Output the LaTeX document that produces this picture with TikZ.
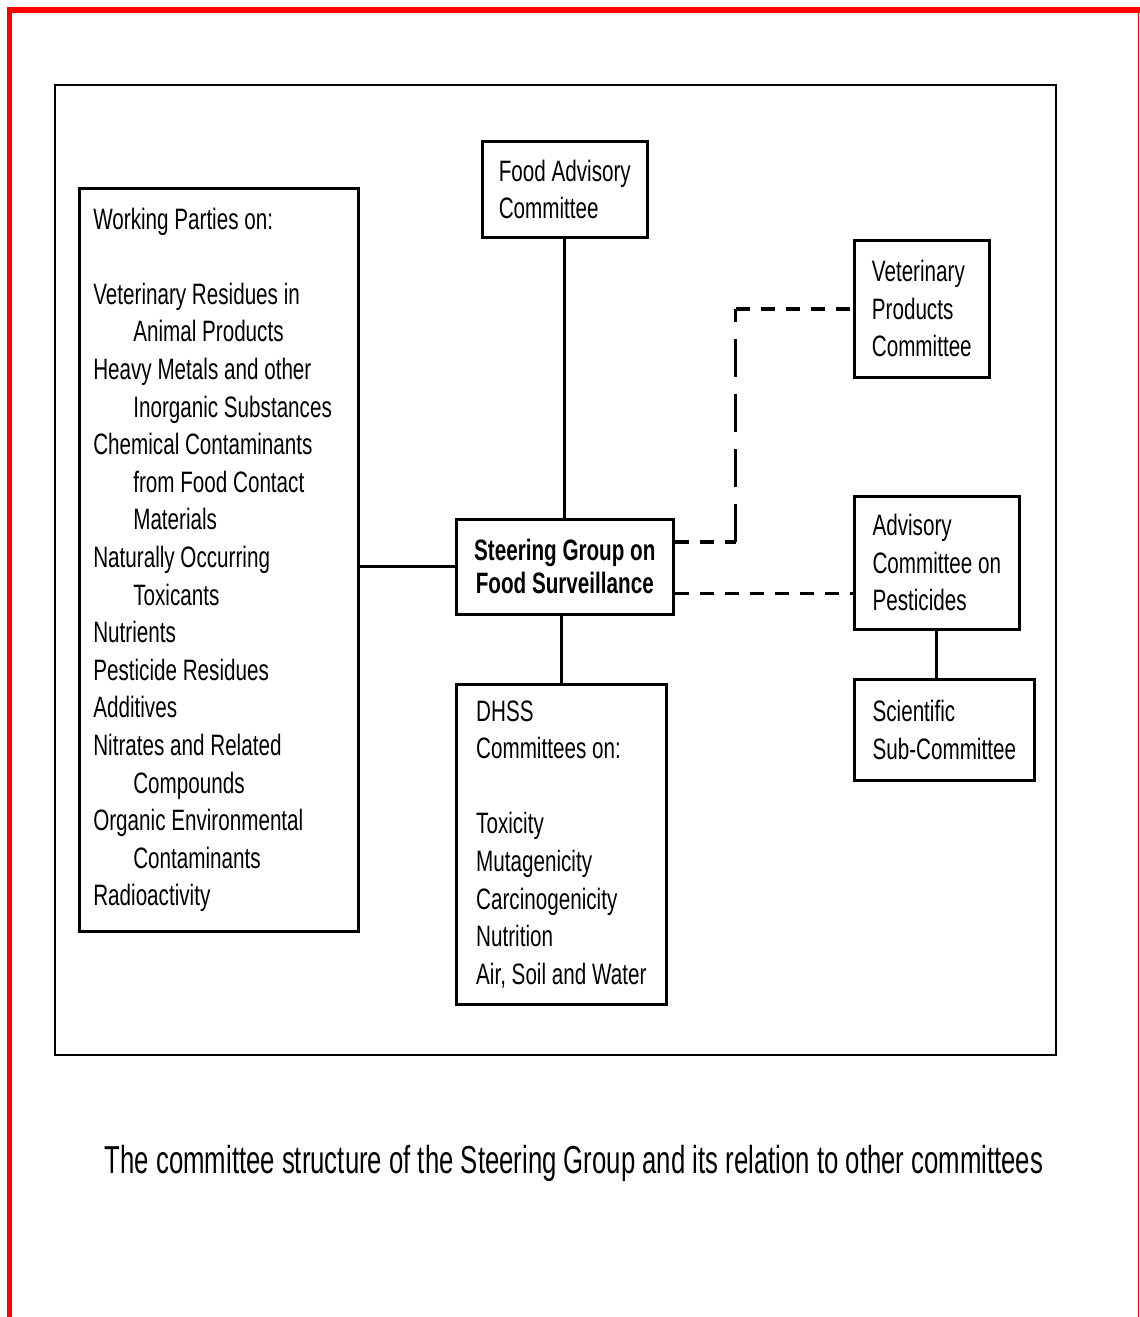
\documentclass[tikz,border=0pt]{standalone}
\usepackage{fontspec}
\setmainfont{Liberation Sans}[FakeStretch=0.70]
\newfontfamily\capfont{Liberation Sans}[FakeStretch=0.66]
\usepackage{tikz}
\usetikzlibrary{calc}
\newcommand{\wpind}{\hspace*{20pt}}

\begin{document}
\begin{tikzpicture}[x=0.5pt,y=-0.5pt,
	box/.style={draw,line width=1.3pt,anchor=north west,align=left,inner sep=2pt,font=\fontsize{14.75}{18.8}\selectfont},
	link/.style={line width=1.4pt},
	dashlink/.style={line width=1.7pt,dash pattern=on 7pt off 5.5pt},
	dashlong/.style={line width=1.7pt,dash pattern=on 19pt off 8.5pt}]
\useasboundingbox(0,0)rectangle(1140,1317);
\draw[red,line width=2.75pt](9.5,1317)--(9.5,10)--(1140,10);
\draw[red,line width=0.6pt](1138.5,10)--(1138.5,1317);
\draw[line width=1.2pt](55,85)rectangle(1056,1055);
\node[box,align=flush left,text width=125.5pt,inner xsep=7pt,minimum height=371.5pt](wp)at(78,187){Working Parties on:\\[18.8pt]
	Veterinary Residues in\\ \wpind Animal Products\\
	Heavy Metals and other\\ \wpind Inorganic Substances\\
	Chemical Contaminants\\ \wpind from Food Contact\\ \wpind Materials\\
	Naturally Occurring\\ \wpind Toxicants\\
	Nutrients\\ Pesticide Residues\\ Additives\\
	Nitrates and Related\\ \wpind Compounds\\
	Organic Environmental\\ \wpind Contaminants\\
	Radioactivity};
\node[box,minimum width=82.5pt,minimum height=48pt](fac)at(481,140){Food Advisory\\Committee};
\node[box,align=center,minimum width=108.5pt,minimum height=47.5pt,font=\bfseries\fontsize{14.75}{16.5}\selectfont](sg)at(455,518){Steering Group on\\Food Surveillance};
\node[box,minimum width=105pt,minimum height=160pt](dhss)at(455,683){DHSS\\Committees on:\\[18.8pt]Toxicity\\Mutagenicity\\Carcinogenicity\\Nutrition\\Air, Soil and Water};
\node[box,minimum width=67.5pt,minimum height=68.5pt](vpc)at(853,239){Veterinary\\Products\\Committee};
\node[box,minimum width=82.5pt,minimum height=66.5pt](acp)at(853,495){Advisory\\Committee on\\Pesticides};
\node[box,minimum width=90pt,minimum height=50.5pt](ssc)at(853,678){Scientific\\Sub-Committee};
\node[font=\capfont\fontsize{19.5}{23}\selectfont](cap)at(574,1163){The committee structure of the Steering Group and its relation to other committees};
\draw[link](fac.south)--(fac.south|-sg.north);
\draw[link](sg.south-|dhss.north)--(dhss.north);
\draw[link](sg.west-|wp.east)--(sg.west);
\draw[link](acp.south)--(acp.south|-ssc.north);
\coordinate(d1)at([yshift=12.5pt]sg.east);
\draw[dashlink](d1)--++(61,0)coordinate(d2);
\coordinate(d3)at(d2|-vpc.west);
\draw[dashlong](d2)--(d3);
\draw[dashlink](d3)--(vpc.west);
\coordinate(d4)at([yshift=-13.25pt]sg.east);
\draw[dashlink](d4)--(d4-|acp.west);
\end{tikzpicture}
\end{document}
